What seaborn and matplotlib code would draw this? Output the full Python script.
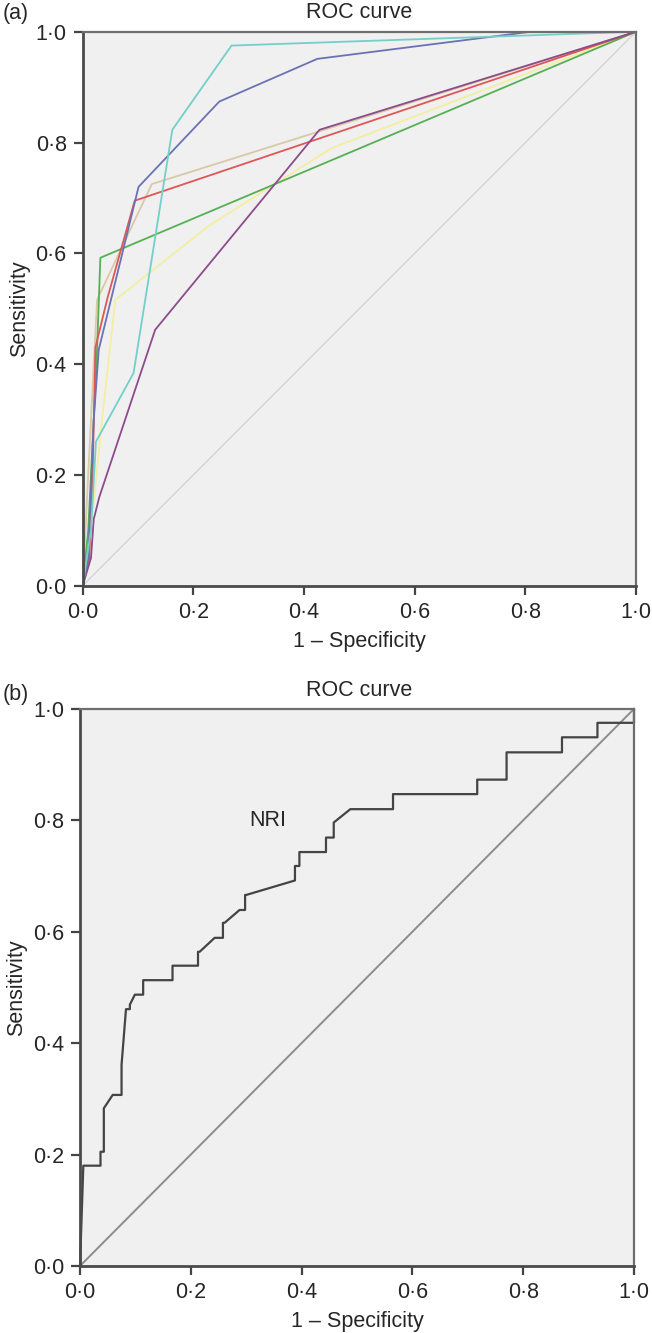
import numpy as np
import pandas as pd
import matplotlib
matplotlib.use("Agg")
import matplotlib.pyplot as plt
import seaborn as sns

# ---- data ----
tick_values = [0.0, 0.2, 0.4, 0.6, 0.8, 1.0]
tick_labels = ["0·0", "0·2", "0·4", "0·6", "0·8", "1·0"]
diag = [0.0, 1.0]

# panel (a): seven markers, polyline ROC curves
yellow_fpr = [0.0, 0.02, 0.035, 0.059, 0.227, 0.45, 1.0]
yellow_tpr = [0.0, 0.15, 0.30, 0.516, 0.649, 0.79, 1.0]
tan_fpr = [0.0, 0.01, 0.026, 0.125, 1.0]
tan_tpr = [0.0, 0.20, 0.516, 0.725, 1.0]
green_fpr = [0.0, 0.01, 0.025, 0.032, 1.0]
green_tpr = [0.0, 0.10, 0.40, 0.592, 1.0]
red_fpr = [0.0, 0.012, 0.018, 0.023, 0.045, 0.094, 1.0]
red_tpr = [0.0, 0.05, 0.20, 0.43, 0.52, 0.695, 1.0]
purple_fpr = [0.0, 0.015, 0.02, 0.03, 0.131, 0.428, 1.0]
purple_tpr = [0.0, 0.05, 0.12, 0.16, 0.462, 0.823, 1.0]
blue_fpr = [0.0, 0.01, 0.02, 0.029, 0.101, 0.247, 0.424, 0.81, 1.0]
blue_tpr = [0.0, 0.05, 0.30, 0.426, 0.720, 0.874, 0.951, 1.0, 1.0]
cyan_fpr = [0.0, 0.015, 0.024, 0.092, 0.162, 0.269, 1.0]
cyan_tpr = [0.0, 0.10, 0.26, 0.384, 0.823, 0.975, 1.0]

curves_a = [
    (yellow_fpr, yellow_tpr, "#f3eea0"),
    (tan_fpr, tan_tpr, "#d9c9a6"),
    (green_fpr, green_tpr, "#55b055"),
    (red_fpr, red_tpr, "#e05656"),
    (purple_fpr, purple_tpr, "#8c4c8c"),
    (blue_fpr, blue_tpr, "#6a72b2"),
    (cyan_fpr, cyan_tpr, "#72d0c8"),
]

# panel (b): NRI step curve
nri_fpr = [0.0, 0.006, 0.037, 0.037, 0.043, 0.043, 0.059, 0.075, 0.075, 0.083,
           0.090, 0.090, 0.099, 0.114, 0.114, 0.167, 0.167, 0.213, 0.213, 0.216,
           0.243, 0.258, 0.258, 0.261, 0.288, 0.298, 0.298, 0.300, 0.388, 0.388,
           0.396, 0.396, 0.444, 0.444, 0.458, 0.458, 0.488, 0.565, 0.565, 0.717,
           0.717, 0.770, 0.770, 0.870, 0.870, 0.934, 0.934, 1.0, 1.0]
nri_tpr = [0.0, 0.180, 0.180, 0.205, 0.205, 0.283, 0.307, 0.307, 0.361, 0.461,
           0.461, 0.469, 0.487, 0.487, 0.513, 0.513, 0.539, 0.539, 0.564, 0.564,
           0.589, 0.589, 0.616, 0.616, 0.639, 0.639, 0.666, 0.666, 0.692, 0.718,
           0.718, 0.743, 0.743, 0.769, 0.769, 0.796, 0.820, 0.820, 0.847, 0.847,
           0.873, 0.873, 0.922, 0.922, 0.949, 0.949, 0.975, 0.975, 1.0]

sns.set_theme(style="white")
plt.rcParams["font.family"] = ["Liberation Sans", "DejaVu Sans"]
FS = 15.5


def style_axes(ax):
    ax.set_facecolor("#f0f0f0")
    ax.set_xlim(0, 1)
    ax.set_ylim(0, 1)
    ax.set_xticks(tick_values)
    ax.set_xticklabels(tick_labels)
    ax.set_yticks(tick_values)
    ax.set_yticklabels(tick_labels)
    ax.tick_params(direction="out", length=6.5, width=1.6, color="#444444",
                   labelsize=FS, pad=5, bottom=True, left=True)
    for side in ["left", "bottom"]:
        ax.spines[side].set_color("#4a4a4a")
        ax.spines[side].set_linewidth(2.0)
    for side in ["top", "right"]:
        ax.spines[side].set_color("#6e6e6e")
        ax.spines[side].set_linewidth(1.6)
    ax.set_xlabel("1 – Specificity", fontsize=FS, labelpad=6)
    ax.set_ylabel("Sensitivity", fontsize=FS, labelpad=4)
    ax.grid(False)


fig = plt.figure(figsize=(6.52, 13.33), dpi=100)
ax1 = fig.add_axes([0.1268, 0.5606, 0.8487, 0.4156])
ax2 = fig.add_axes([0.1227, 0.0503, 0.8497, 0.4179])

# ---- panel (a) ----
sns.lineplot(x=diag, y=diag, color="#d4d4d4", linewidth=1.0, ax=ax1)
for fpr, tpr, col in curves_a:
    sns.lineplot(x=fpr, y=tpr, sort=False, estimator=None, color=col,
                 linewidth=1.3, ax=ax1)
style_axes(ax1)

# ---- panel (b) ----
sns.lineplot(x=diag, y=diag, color="#8c8c8c", linewidth=1.4, ax=ax2)
sns.lineplot(x=nri_fpr, y=nri_tpr, sort=False, estimator=None, color="#444444",
             linewidth=1.6, ax=ax2, clip_on=False)
ax2.text(0.339, 0.80, "NRI", fontsize=FS, ha="center", va="center")
style_axes(ax2)

# titles and panel letters
fig.text(0.551, 1 - 12 / 1333, "ROC curve", fontsize=FS, ha="center", va="center")
fig.text(0.551, 1 - 690 / 1333, "ROC curve", fontsize=FS, ha="center", va="center")
fig.text(0.004, 1 - 14 / 1333, "(a)", fontsize=FS, ha="left", va="center")
fig.text(0.004, 1 - 695 / 1333, "(b)", fontsize=FS, ha="left", va="center")

fig.savefig("out.png", dpi=100, facecolor="white")
plt.close(fig)
